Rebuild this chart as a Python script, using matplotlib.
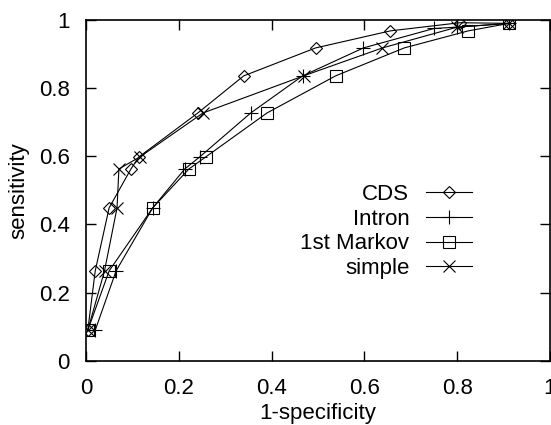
import matplotlib.pyplot as plt

plt.rcParams['font.family'] = ['Liberation Sans', 'DejaVu Sans']

# ROC points
cds_x = [0.004, 0.02, 0.05, 0.097, 0.114, 0.241, 0.34, 0.495, 0.656, 0.806, 0.912]
cds_y = [0.09, 0.264, 0.449, 0.563, 0.598, 0.727, 0.836, 0.918, 0.968, 0.992, 0.99]

intron_x = [0.02, 0.065, 0.144, 0.213, 0.245, 0.355, 0.467, 0.598, 0.75, 0.80, 0.912]
intron_y = [0.09, 0.264, 0.449, 0.563, 0.598, 0.727, 0.836, 0.918, 0.975, 0.979, 0.99]

markov_x = [0.004, 0.05, 0.144, 0.222, 0.258, 0.39, 0.538, 0.686, 0.824, 0.912]
markov_y = [0.09, 0.264, 0.449, 0.563, 0.598, 0.727, 0.836, 0.918, 0.968, 0.99]

simple_x = [0.004, 0.04, 0.067, 0.071, 0.116, 0.252, 0.469, 0.639, 0.80, 0.912]
simple_y = [0.09, 0.264, 0.449, 0.563, 0.598, 0.727, 0.836, 0.918, 0.979, 0.99]

ticks = [0, 0.2, 0.4, 0.6, 0.8, 1]
tick_labels = ['0', '0.2', '0.4', '0.6', '0.8', '1']

fig = plt.figure(figsize=(5.51, 4.25), dpi=100)
ax = fig.add_axes([0.156, 0.151, 0.842, 0.802])

style = dict(color='black', lw=0.8, fillstyle='none', mew=0.8)
ax.plot(cds_x, cds_y, marker='D', ms=6.5, label='CDS', **style)
ax.plot(intron_x, intron_y, marker='+', ms=10, label='Intron', **style)
ax.plot(markov_x, markov_y, marker='s', ms=8, label='1st Markov', **style)
ax.plot(simple_x, simple_y, marker='x', ms=8, label='simple', **style)

ax.set_xlim(0, 1)
ax.set_ylim(0, 1)
ax.set_xticks(ticks)
ax.set_xticklabels(tick_labels)
ax.set_yticks(ticks)
ax.set_yticklabels(tick_labels)
ax.tick_params(direction='in', length=7, width=1, top=True, right=True,
               labelsize=16)
ax.tick_params(axis='x', pad=12.5)
ax.tick_params(axis='y', pad=11.5)
for s in ax.spines.values():
    s.set_linewidth(1.2)

ax.set_xlabel('1-specificity', fontsize=16, labelpad=3)
ax.set_ylabel('sensitivity', fontsize=16, labelpad=7)

leg = ax.legend(markerfirst=False, frameon=False, fontsize=16,
                handlelength=2.07, handletextpad=0.77, labelspacing=0.17,
                loc='upper right', bbox_to_anchor=(0.876, 0.578))
# right-align the labels like gnuplot's key
for col in leg._legend_box.get_children()[1].get_children():
    col.align = 'right'

fig.savefig('out.png', dpi=100)
